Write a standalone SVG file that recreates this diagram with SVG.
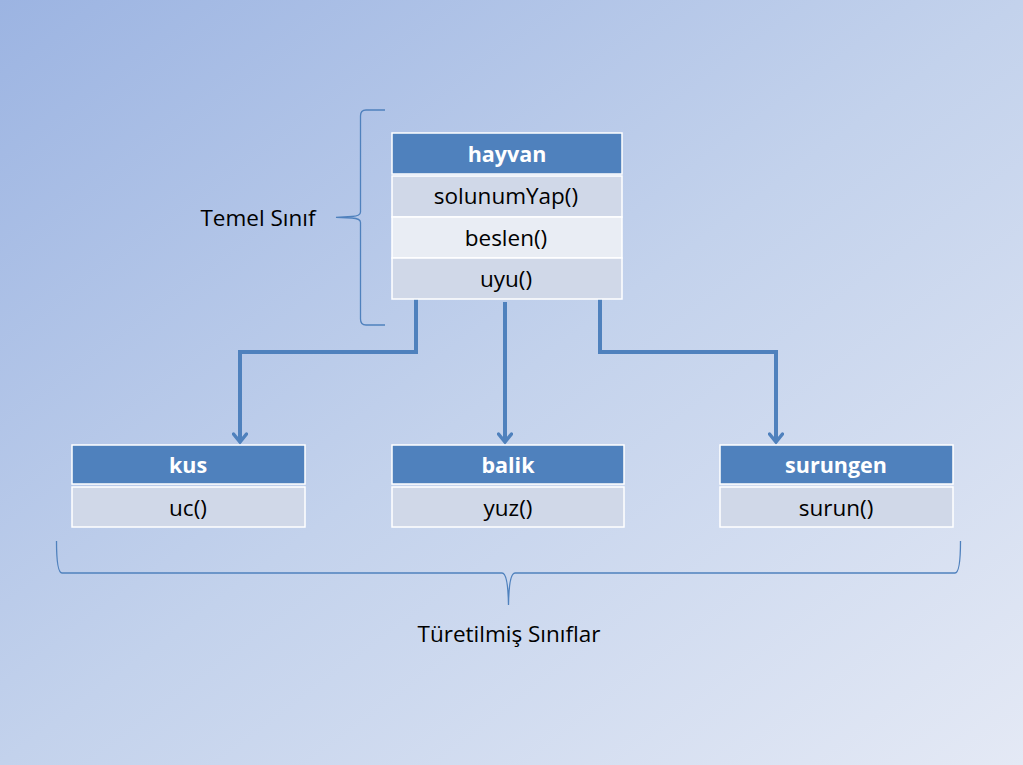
<svg xmlns="http://www.w3.org/2000/svg" width="1023" height="765" viewBox="0 0 1023 765">
<defs>
<linearGradient id="bg" x1="0" y1="0" x2="1" y2="1">
<stop offset="0" stop-color="#9CB4E2"/>
<stop offset="0.5" stop-color="#C3D2EC"/>
<stop offset="1" stop-color="#E4E9F5"/>
</linearGradient>
<marker id="arr" markerWidth="14" markerHeight="16" refX="11" refY="8" orient="auto" markerUnits="userSpaceOnUse" viewBox="0 0 14 16">
<path d="M3,1.5 L11,8 L3,14.5" fill="none" stroke="#4F81BD" stroke-width="3.5" stroke-linecap="round"/>
</marker>
</defs>
<style>
.hd{fill:#4F81BD;stroke:#fff;stroke-width:1.5}
.r1{fill:#D0D8E8;stroke:#fff;stroke-width:1.5}
.r2{fill:#E9EDF4;stroke:#fff;stroke-width:1.5}
.ht{font-family:"Open Sans","Liberation Sans",sans-serif;font-weight:bold;font-size:21.5px;fill:#fff;text-anchor:middle}
.rt{font-family:"Open Sans","Liberation Sans",sans-serif;font-size:22.5px;fill:#000;text-anchor:middle}
.lb{font-family:"Open Sans","Liberation Sans",sans-serif;font-size:22.5px;fill:#000;text-anchor:middle}
.con{fill:none;stroke:#4F81BD;stroke-width:4;marker-end:url(#arr)}
.br{fill:none;stroke:#4F81BD;stroke-width:1.3}
</style>
<rect width="1023" height="765" fill="url(#bg)"/>
<g id="connectors">
<path class="con" d="M416,299 V352 H240 V442"/>
<path class="con" d="M505,302 V442"/>
<path class="con" d="M600,299 V352 H776 V442"/>
</g>
<g id="hayvan">
<rect class="hd" x="392" y="133" width="230" height="41"/>
<rect class="r1" x="392" y="176" width="230" height="41"/>
<rect class="r2" x="392" y="217" width="230" height="41"/>
<rect class="r1" x="392" y="258" width="230" height="41"/>
<text class="ht" x="507" y="162">hayvan</text>
<text class="rt" x="506" y="204">solunumYap()</text>
<text class="rt" x="506" y="246">beslen()</text>
<text class="rt" x="506" y="287">uyu()</text>
</g>
<g id="kus">
<rect class="hd" x="72" y="445" width="233" height="39"/>
<rect class="r1" x="72" y="487" width="233" height="40"/>
<text class="ht" x="188" y="473">kus</text>
<text class="rt" x="188" y="516">uc()</text>
</g>
<g id="balik">
<rect class="hd" x="392" y="445" width="232" height="39"/>
<rect class="r1" x="392" y="487" width="232" height="40"/>
<text class="ht" x="508" y="473">balik</text>
<text class="rt" x="508" y="516">yuz()</text>
</g>
<g id="surungen">
<rect class="hd" x="720" y="445" width="233" height="39"/>
<rect class="r1" x="720" y="487" width="233" height="40"/>
<text class="ht" x="836" y="473">surungen</text>
<text class="rt" x="836" y="516">surun()</text>
</g>
<g id="brace-base">
<path class="br" d="M385,110 H366 Q360.5,110 360.5,116 V212 Q360.5,216 352,216.5 L336,217.3 L352,218 Q360.5,218.5 360.5,222.5 V319 Q360.5,325 366,325 H385"/>
<text class="lb" x="258" y="226">Temel Sınıf</text>
</g>
<g id="brace-derived">
<path class="br" d="M56.5,541 Q56.5,573 62,573 H502 Q508,573 508.5,605 Q509,573 515,573 H955 Q960.5,573 960.5,541"/>
<text class="lb" x="509" y="642">Türetilmiş Sınıflar</text>
</g>
</svg>
